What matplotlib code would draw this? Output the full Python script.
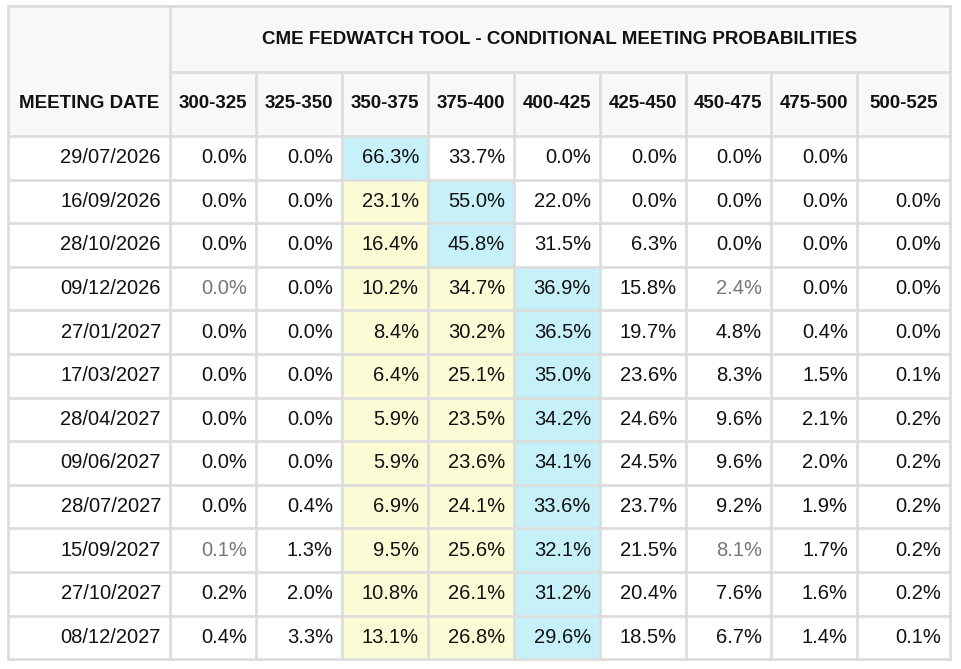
import matplotlib.pyplot as plt
from matplotlib.patches import Rectangle

title = "CME FEDWATCH TOOL - CONDITIONAL MEETING PROBABILITIES"
ranges = ["300-325", "325-350", "350-375", "375-400", "400-425",
          "425-450", "450-475", "475-500", "500-525"]
dates = ["29/07/2026", "16/09/2026", "28/10/2026", "09/12/2026", "27/01/2027",
         "17/03/2027", "28/04/2027", "09/06/2027", "28/07/2027", "15/09/2027",
         "27/10/2027", "08/12/2027"]
probs = [
    [0.0, 0.0, 66.3, 33.7, 0.0, 0.0, 0.0, 0.0, None],
    [0.0, 0.0, 23.1, 55.0, 22.0, 0.0, 0.0, 0.0, 0.0],
    [0.0, 0.0, 16.4, 45.8, 31.5, 6.3, 0.0, 0.0, 0.0],
    [0.0, 0.0, 10.2, 34.7, 36.9, 15.8, 2.4, 0.0, 0.0],
    [0.0, 0.0, 8.4, 30.2, 36.5, 19.7, 4.8, 0.4, 0.0],
    [0.0, 0.0, 6.4, 25.1, 35.0, 23.6, 8.3, 1.5, 0.1],
    [0.0, 0.0, 5.9, 23.5, 34.2, 24.6, 9.6, 2.1, 0.2],
    [0.0, 0.0, 5.9, 23.6, 34.1, 24.5, 9.6, 2.0, 0.2],
    [0.0, 0.4, 6.9, 24.1, 33.6, 23.7, 9.2, 1.9, 0.2],
    [0.1, 1.3, 9.5, 25.6, 32.1, 21.5, 8.1, 1.7, 0.2],
    [0.2, 2.0, 10.8, 26.1, 31.2, 20.4, 7.6, 1.6, 0.2],
    [0.4, 3.3, 13.1, 26.8, 29.6, 18.5, 6.7, 1.4, 0.1],
]
# columns shaded yellow per row (blue goes on the row maximum)
yellow_cols = [[], [2], [2], [2, 3], [2, 3], [2, 3], [2, 3], [2, 3], [2, 3],
               [2, 3], [2, 3], [2, 3]]
grey_cells = [(3, 0), (3, 6), (9, 0), (9, 6)]

W, H = 962, 669
fig = plt.figure(figsize=(W / 100, H / 100), dpi=100)
ax = fig.add_axes([0, 0, 1, 1])
ax.set_xlim(0, W)
ax.set_ylim(H, 0)
ax.axis("off")

x_edges = [8, 170, 256, 342, 428, 514, 600, 686, 771, 857, 950]
y_title, y_head, y_data = 6, 72, 136
row_h = 43.6
y_end = y_data + row_h * len(dates)
line_c = "#dddddd"
head_bg = "#f8f8f8"
blue, yellow = "#c6f1f8", "#fbfbd6"
fs_data, fs_head = 14.5, 13.5

ax.add_patch(Rectangle((x_edges[0], y_title), x_edges[-1] - x_edges[0],
                       y_data - y_title, fc=head_bg, ec="none"))
for i, row in enumerate(probs):
    y0 = y_data + i * row_h
    vals = [v if v is not None else -1 for v in row]
    imax = vals.index(max(vals))
    for j, v in enumerate(row):
        fc = None
        if j == imax:
            fc = blue
        elif j in yellow_cols[i]:
            fc = yellow
        if fc:
            ax.add_patch(Rectangle((x_edges[j + 1], y0), x_edges[j + 2] - x_edges[j + 1],
                                   row_h, fc=fc, ec="none"))
        if v is not None:
            c = "#777777" if (i, j) in grey_cells else "#111111"
            ax.text(x_edges[j + 2] - 9, y0 + row_h / 2, f"{v:.1f}%", ha="right",
                    va="center", fontsize=fs_data, color=c, family="Liberation Sans")
    ax.text(x_edges[1] - 9, y0 + row_h / 2, dates[i], ha="right", va="center",
            fontsize=fs_data, color="#111111", family="Liberation Sans")

# grid lines
kw = dict(color=line_c, lw=2)
ax.plot([x_edges[0], x_edges[-1]], [y_title, y_title], **kw)
ax.plot([x_edges[1], x_edges[-1]], [y_head, y_head], **kw)
for i in range(len(dates) + 1):
    y = y_data + i * row_h
    ax.plot([x_edges[0], x_edges[-1]], [y, y], **kw)
for k, x in enumerate(x_edges):
    top = y_title if k in (0, 1, len(x_edges) - 1) else y_head
    ax.plot([x, x], [top, y_end], **kw)

ax.text((x_edges[1] + x_edges[-1]) / 2, (y_title + y_head) / 2, title, ha="center",
        va="center", fontsize=fs_head, fontweight="bold", color="#111111",
        family="Liberation Sans")
ax.text((x_edges[0] + x_edges[1]) / 2, (y_head + y_data) / 2, "MEETING DATE",
        ha="center", va="center", fontsize=fs_head, fontweight="bold", color="#111111",
        family="Liberation Sans")
for j, r in enumerate(ranges):
    ax.text((x_edges[j + 1] + x_edges[j + 2]) / 2, (y_head + y_data) / 2, r,
            ha="center", va="center", fontsize=fs_head, fontweight="bold",
            color="#111111", family="Liberation Sans")

fig.savefig("out.png", dpi=100, facecolor="white")
